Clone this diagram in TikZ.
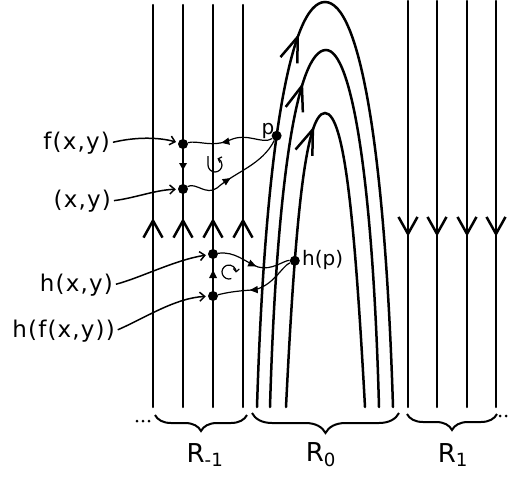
\documentclass[tikz,border=0pt]{standalone}
\usepackage{fontspec}
\setmainfont{DejaVu Sans}
\newfontfamily\labfont[LetterSpace=5]{DejaVu Sans}
\usetikzlibrary{arrows.meta,decorations.markings,decorations.pathreplacing}
\begin{document}
\begin{tikzpicture}[x=1pt,y=1pt,
  flow/.style={line width=2.5pt, line cap=round},
  chev/.style={postaction={decorate}, decoration={markings, mark=at position #1 with {\arrow[line width=2.5pt]{Straight Barb[length=17pt,width=19pt]}}}},
  bigchev/.style={postaction={decorate}, decoration={markings, mark=at position #1 with {\arrow[line width=2.5pt]{Straight Barb[length=25pt,width=18pt]}}}},
  wavy/.style={line width=1.2pt},
  midtri/.style={postaction={decorate}, decoration={markings, mark=at position #1 with {\arrow{Triangle[length=8pt,width=7pt]}}}},
  turn/.style={line width=1.2pt, -{Straight Barb[length=3pt,width=6pt]}},
  labarrow/.style={line width=1.5pt, -{Straight Barb[length=5pt,width=9pt]}, shorten >=2pt, shorten <=3pt},
  dot/.style={circle, fill, inner sep=0pt, minimum size=10pt},
  lab/.style={font=\labfont\fontsize{23}{26}\selectfont, inner sep=0pt},
  small/.style={font=\fontsize{20}{23}\selectfont, inner sep=0pt},
  rlab/.style={font=\fontsize{26}{28}\selectfont, inner sep=0pt},
  bracestyle/.style={line width=2pt, decorate, decoration={brace, mirror, amplitude=#1}},
  tinydot/.style={circle, fill, inner sep=0pt, minimum size=3pt}
]
\useasboundingbox (0,0) rectangle (509,-479);

% left vertical flow lines (upward)
\foreach \x in {153,183,213,243}
  \draw[flow, chev=0.47] (\x,-407) -- (\x,-5);
% right vertical flow lines (downward)
\foreach \x in {408,437,467,496}
  \draw[flow, chev=0.58] (\x,-1) -- (\x,-407);

% arches
\draw[flow, bigchev=377pt] (257,-407) .. controls (265,-150) and (290,-2) ..
  (325,-2) .. controls (360,-2) and (385,-150) .. (393,-407);
\path (257,-407) .. controls (265,-150) and (290,-2) .. coordinate[pos=0.437] (pc) (325,-2);
\draw[flow, bigchev=327pt] (270,-407) .. controls (276.6,-182) and (297,-50) .. (326,-50)
  .. controls (352,-50) and (373,-182) .. (379,-407);
\draw[flow, bigchev=283pt] (286,-407) .. controls (295,-225) and (305,-113) .. (325,-113)
  .. controls (345,-113) and (355,-225) .. (365,-407);
\path (286,-407) .. controls (295,-225) and (305,-113) .. coordinate[pos=0.306] (hpc) (325,-113);

% points
\node[dot] (F) at (183,-144) {};
\node[dot] (X) at (183,-189) {};
\node[dot] (P) at (pc) {};
\node[dot] (H) at (213,-254) {};
\node[dot] (HF) at (213,-296) {};
\node[dot] (HP) at (hpc) {};

% small direction triangles
\fill (183,-170) -- (179,-163) -- (187,-163) -- cycle;
\fill (213,-270) -- (209,-278) -- (217,-278) -- cycle;

% wavy maps
\draw[wavy, midtri=0.61] (P) .. controls (262,-145) and (248,-132) .. (230,-140)
  .. controls (212,-148) and (198,-140) .. (F);
\draw[wavy, midtri=0.45] (X) .. controls (196,-182) and (206,-196) .. (217,-188)
  .. controls (235,-172) and (262,-165) .. (P);
\draw[wavy, midtri=0.54] (H) .. controls (235,-251) and (245,-262) .. (258,-267)
  .. controls (272,-271) and (284,-260) .. (HP);
\draw[wavy, midtri=0.61] (HP) .. controls (282,-266) and (272,-288) .. (252,-290)
  .. controls (235,-291) and (225,-293) .. (HF);

% rotation marks
\draw[turn] (208,-156) -- (208,-165) arc[start angle=180, end angle=430, radius=7];
\draw[turn] (229,-272) ++(290:7) arc[start angle=290, end angle=-5, radius=7];

% labels
\node[lab, anchor=east] (lf) at (110,-143) {f(x,y)};
\node[lab, anchor=east] (lx) at (111,-201) {(x,y)};
\node[lab, anchor=east] (lh) at (113,-285) {h(x,y)};
\node[lab, anchor=east] (lhf) at (115,-331) {h(f(x,y))};
\node[small] (lp) at (268,-131) {p};
\node[small, anchor=west] (lhp) at (302,-260) {h(p)};

\draw[labarrow] (lf.east) .. controls (135,-137) and (158,-137) .. (F);
\draw[labarrow] (lx.east) .. controls (135,-198) and (155,-190) .. (X);
\draw[labarrow] (lh.east) .. controls (140,-278) and (175,-260) .. (H);
\draw[labarrow] (lhf.east) .. controls (145,-318) and (175,-298) .. (HF);

% braces
\draw[bracestyle=16pt] (155,-415) -- (247,-415);
\draw[bracestyle=20pt] (252,-413) -- (399,-413);
\draw[bracestyle=16pt] (407,-414) -- (497,-414);
\node[rlab] (rm) at (205,-455) {R\textsubscript{-1}};
\node[rlab] (r0) at (321,-455) {R\textsubscript{0}};
\node[rlab] (r1) at (453,-455) {R\textsubscript{1}};

% ellipsis dots
\foreach \x [count=\i] in {137,143,149} \node[tinydot] (ld\i) at (\x,-421) {};
\foreach \x [count=\i] in {500,506} \node[tinydot] (rd\i) at (\x,-416) {};
\end{tikzpicture}
\end{document}
